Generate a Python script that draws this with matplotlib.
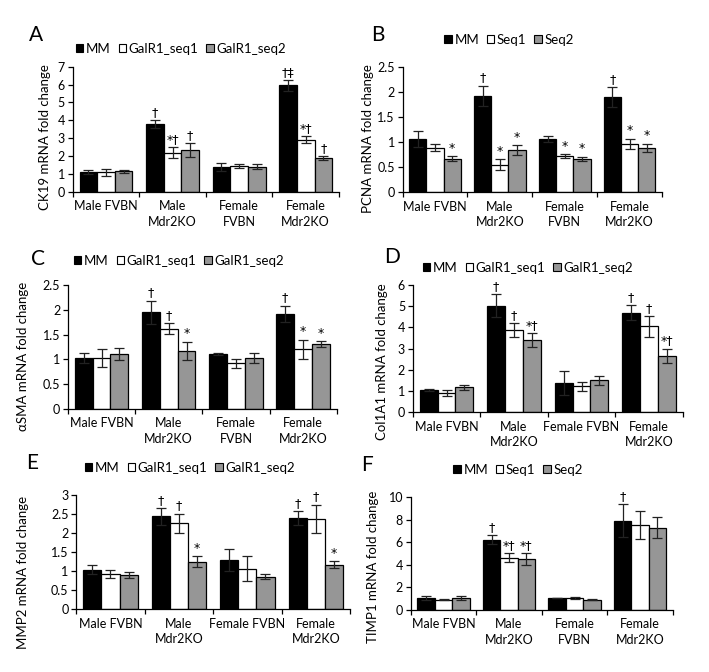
import matplotlib
matplotlib.use("Agg")
import matplotlib.pyplot as plt
from matplotlib.patches import Patch
import numpy as np

plt.rcParams['font.family'] = ['Lato', 'DejaVu Sans']
FS = 8.5

W, H = 709, 672

cats_a = ["Male FVBN", "Male\nMdr2KO", "Female\nFVBN", "Female\nMdr2KO"]
cats_d = ["Male FVBN", "Male\nMdr2KO", "Female FVBN", "Female\nMdr2KO"]
leg_long = ["MM", "GalR1_seq1", "GalR1_seq2"]
leg_short = ["MM", "Seq1", "Seq2"]

# Panel A: CK19
ck19_mm = [1.10, 3.78, 1.40, 5.95]
ck19_mm_err = [0.13, 0.22, 0.22, 0.30]
ck19_s1 = [1.08, 2.18, 1.45, 2.90]
ck19_s1_err = [0.20, 0.32, 0.10, 0.20]
ck19_s2 = [1.15, 2.35, 1.40, 1.88]
ck19_s2_err = [0.08, 0.38, 0.15, 0.12]
ck19_marks = [["", "†", "", "†‡"], ["", "*†", "", "*†"], ["", "†", "", "†"]]

# Panel B: PCNA
pcna_mm = [1.06, 1.92, 1.06, 1.89]
pcna_mm_err = [0.16, 0.20, 0.06, 0.20]
pcna_s1 = [0.89, 0.55, 0.72, 0.97]
pcna_s1_err = [0.07, 0.11, 0.04, 0.10]
pcna_s2 = [0.67, 0.84, 0.67, 0.89]
pcna_s2_err = [0.05, 0.10, 0.04, 0.08]
pcna_marks = [["", "†", "", "†"], ["", "*", "*", "*"], ["*", "*", "*", "*"]]

# Panel C: aSMA
asma_mm = [1.03, 1.95, 1.11, 1.92]
asma_mm_err = [0.10, 0.23, 0.02, 0.16]
asma_s1 = [1.03, 1.62, 0.92, 1.20]
asma_s1_err = [0.18, 0.11, 0.09, 0.20]
asma_s2 = [1.11, 1.17, 1.03, 1.31]
asma_s2_err = [0.12, 0.19, 0.10, 0.06]
asma_marks = [["", "†", "", "†"], ["", "†", "", "*"], ["", "*", "", "*"]]

# Panel D: Col1A1
col_mm = [1.05, 5.02, 1.38, 4.70]
col_mm_err = [0.06, 0.55, 0.55, 0.35]
col_s1 = [0.92, 3.87, 1.23, 4.05]
col_s1_err = [0.15, 0.33, 0.22, 0.48]
col_s2 = [1.18, 3.40, 1.50, 2.67]
col_s2_err = [0.12, 0.32, 0.23, 0.33]
col_marks = [["", "†", "", "†"], ["", "†", "", "†"], ["", "*†", "", "*†"]]

# Panel E: MMP2
mmp_mm = [1.04, 2.44, 1.29, 2.40]
mmp_mm_err = [0.12, 0.22, 0.28, 0.18]
mmp_s1 = [0.93, 2.26, 1.07, 2.37]
mmp_s1_err = [0.10, 0.25, 0.34, 0.37]
mmp_s2 = [0.89, 1.25, 0.86, 1.17]
mmp_s2_err = [0.08, 0.14, 0.07, 0.09]
mmp_marks = [["", "†", "", "†"], ["", "†", "", "†"], ["", "*", "", "*"]]

# Panel F: TIMP1
timp_mm = [1.07, 6.24, 1.07, 7.93]
timp_mm_err = [0.15, 0.40, 0.03, 1.45]
timp_s1 = [0.90, 4.63, 1.05, 7.55]
timp_s1_err = [0.05, 0.40, 0.08, 1.25]
timp_s2 = [1.05, 4.50, 0.93, 7.30]
timp_s2_err = [0.15, 0.55, 0.05, 0.95]
timp_marks = [["", "†", "", "†"], ["", "*†", "", ""], ["", "*†", "", ""]]

colors = ["#000000", "#ffffff", "#969696"]

fig = plt.figure(figsize=(W / 100, H / 100), dpi=100)


def px_axes(left, right, top, bottom):
    return fig.add_axes([left / W, 1 - bottom / H, (right - left) / W, (bottom - top) / H])


def panel(box, letter, letter_xy, leg_labels, leg_xy, ylabel, ylab_xy,
          cats, series, errs, marks, yticks):
    ax = px_axes(*box)
    bw = 0.265
    x = np.arange(len(cats))
    for j, (vals, ev) in enumerate(zip(series, errs)):
        xs = x + (j - 1) * bw
        ax.bar(xs, vals, width=bw, color=colors[j], edgecolor="black", linewidth=0.9,
               zorder=2)
        ax.errorbar(xs, vals, yerr=ev, fmt="none", ecolor="#222222", elinewidth=0.9,
                    capsize=3.8, capthick=0.9, zorder=3)
        for xi, v, e, m in zip(xs, vals, ev, marks[j]):
            if m:
                ax.annotate(m, xy=(xi, v + e), xytext=(0, 1), textcoords="offset points",
                            ha="center", va="bottom", fontsize=9,
                            family=["DejaVu Sans"])
    ax.set_xlim(-0.5, len(cats) - 0.5)
    ax.set_ylim(yticks[0], yticks[-1])
    ax.set_yticks(yticks)
    ax.set_yticklabels(["%g" % t for t in yticks], fontsize=FS + 0.5)
    ax.set_xticks(np.arange(len(cats) + 1) - 0.5)
    ax.set_xticklabels([])
    ax.set_xticks(x, minor=True)
    ax.set_xticklabels(cats, minor=True, fontsize=FS + 0.5, linespacing=1.35)
    ax.tick_params(axis="x", which="major", length=3.5, width=0.9, direction="out")
    ax.tick_params(axis="x", which="minor", length=0, pad=6)
    ax.tick_params(axis="y", length=3.5, width=0.9, direction="out", pad=2)
    for s in ["top", "right"]:
        ax.spines[s].set_visible(False)
    for s in ["left", "bottom"]:
        ax.spines[s].set_linewidth(0.9)
    fig.text(letter_xy[0] / W, 1 - letter_xy[1] / H, letter, ha="center", va="center",
             fontsize=15)
    fig.text(ylab_xy[0] / W, 1 - ylab_xy[1] / H, ylabel, rotation=90, ha="center",
             va="center", fontsize=FS + 1)
    handles = [Patch(facecolor=c, edgecolor="black", linewidth=0.8) for c in colors]
    fig.legend(handles, leg_labels, loc="center", bbox_to_anchor=(leg_xy[0] / W, 1 - leg_xy[1] / H),
               ncol=3, frameon=False, fontsize=9.5, handlelength=0.55, handleheight=0.55,
               handletextpad=0.2, columnspacing=0.6, borderaxespad=0, borderpad=0)
    return ax


panel((72.7, 339, 66.7, 191.7), "A", (36, 35), leg_long, (181, 49), "CK19 mRNA fold change",
      (45, 137), cats_a, [ck19_mm, ck19_s1, ck19_s2], [ck19_mm_err, ck19_s1_err, ck19_s2_err],
      ck19_marks, [0, 1, 2, 3, 4, 5, 6, 7])

panel((402.6, 662, 66.7, 192.3), "B", (378, 35), leg_short, (509, 40), "PCNA mRNA fold change",
      (368, 139), cats_a, [pcna_mm, pcna_s1, pcna_s2], [pcna_mm_err, pcna_s1_err, pcna_s2_err],
      pcna_marks, [0, 0.5, 1, 1.5, 2, 2.5])

panel((67.9, 336.7, 285, 409), "C", (38, 259), leg_long, (179, 261), "αSMA mRNA fold change",
      (23, 356), cats_a, [asma_mm, asma_s1, asma_s2], [asma_mm_err, asma_s1_err, asma_s2_err],
      asma_marks, [0, 0.5, 1, 1.5, 2, 2.5])

panel((412.75, 682.75, 285, 412.3), "D", (392, 257), leg_long, (528, 268), "Col1A1 mRNA fold change",
      (382, 362), cats_d, [col_mm, col_s1, col_s2], [col_mm_err, col_s1_err, col_s2_err],
      col_marks, [0, 1, 2, 3, 4, 5, 6])

panel((76.25, 350, 495, 609.3), "E", (32, 463), leg_long, (190, 468), "MMP2 mRNA fold change",
      (23, 572), cats_d, [mmp_mm, mmp_s1, mmp_s2], [mmp_mm_err, mmp_s1_err, mmp_s2_err],
      mmp_marks, [0, 0.5, 1, 1.5, 2, 2.5, 3])

panel((410.75, 672.75, 497.3, 610), "F", (367, 465), leg_short, (518, 470), "TIMP1 mRNA fold change",
      (373, 567), cats_a, [timp_mm, timp_s1, timp_s2], [timp_mm_err, timp_s1_err, timp_s2_err],
      timp_marks, [0, 2, 4, 6, 8, 10])

fig.savefig("out.png", dpi=100)
